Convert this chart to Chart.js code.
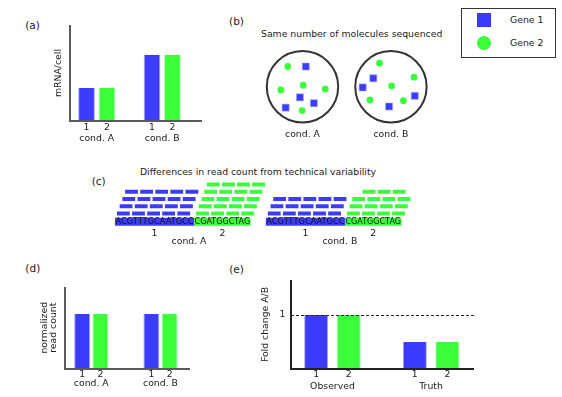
<!DOCTYPE html>
<html lang="en">
<head>
<meta charset="UTF-8">
<title>Read count normalization</title>
<script src="https://cdn.jsdelivr.net/npm/chart.js"></script>
<style>
  body { margin: 0; background: #fff; }
  #fig { position: relative; width: 562px; height: 397px; overflow: hidden;
         font-family: "DejaVu Sans", sans-serif; color: #1a1a1a; }
  .panel { position: absolute; }
  .txt { position: absolute; white-space: nowrap; transform: translate(-50%, -50%);
         line-height: 1; font-size: 9.3px; }
  .tag { font-size: 10.5px; }
  #legend { position: absolute; left: 461px; top: 8px; width: 95px; height: 50px;
            border: 1px solid #333; box-sizing: border-box; }
  #legend .mark { position: absolute; left: 14.7px; width: 14px; height: 14px; }
  #legend .name { position: absolute; left: 48px; font-size: 9.3px; line-height: 1; transform: translateY(-50%); }
</style>
</head>
<body>
<div id="fig">
  <div class="txt tag" style="left:32.5px; top:24.5px">(a)</div>
  <div class="txt tag" style="left:236.5px; top:20.7px">(b)</div>
  <div class="txt" style="left:351.7px; top:34.3px">Same number of molecules sequenced</div>
  <div class="txt tag" style="left:98.7px; top:180.7px">(c)</div>
  <div class="txt" style="left:258px; top:172.3px">Differences in read count from technical variability</div>
  <div class="txt tag" style="left:32.8px; top:268.3px">(d)</div>
  <div class="txt tag" style="left:236.5px; top:269px">(e)</div>

  <div class="panel" style="left:53px; top:25px; width:149px; height:124px"><canvas id="chartA"></canvas></div>
  <div class="panel" style="left:259px; top:43px; width:177px; height:100px"><canvas id="chartB"></canvas></div>
  <div class="panel" style="left:105px; top:178px; width:315px; height:70px"><canvas id="chartC"></canvas></div>
  <div class="panel" style="left:40px; top:287px; width:150px; height:110px"><canvas id="chartD"></canvas></div>
  <div class="panel" style="left:260px; top:280px; width:214px; height:117px"><canvas id="chartE"></canvas></div>

  <div id="legend"></div>
</div>

<script>
// ---- data ----
const conditions = ['cond. A', 'cond. B'];
const genes = ['Gene 1', 'Gene 2'];
const geneNumbers = ['1', '2'];

// (a) mRNA per cell
const mrnaGene1 = [1, 2];
const mrnaGene2 = [1, 2];

// (b) molecules in each sample, offsets from the circle centre in radii
const moleculesGene1A = [[0.09, 0.55], [-0.07, -0.29], [0.31, -0.45], [-0.46, -0.57]];
const moleculesGene2A = [[-0.40, 0.55], [0.02, 0.04], [-0.59, -0.09], [0.62, -0.06], [-0.01, -0.65]];
const moleculesGene1B = [[-0.48, 0.23], [-0.77, -0.02], [0.65, -0.25], [-0.05, -0.54]];
const moleculesGene2B = [[-0.31, 0.64], [0.63, 0.26], [0.02, 0.02], [-0.57, -0.36], [0.34, -0.38]];

// (c) sequences and number of reads per gene (cond. A, cond. B)
const sequences = ['ACGTTTGCAATGCC', 'CGATGGCTAG'];
const readsGene1 = [20, 15];
const readsGene2 = [20, 15];

// (d) normalized read count
const normGene1 = [1, 1];
const normGene2 = [1, 1];

// (e) fold change A/B
const foldGroups = ['Observed', 'Truth'];
const foldGene1 = [1, 0.5];
const foldGene2 = [1, 0.5];
const foldReference = 1;

// ---- style ----
const BLUE = '#3c3cff', GREEN = '#3cff3c';
const BLUE_EDGE = '#a8a8ff', GREEN_EDGE = '#a8ffa8';
const FONT = '"DejaVu Sans", sans-serif';
const INK = '#1a1a1a';

Chart.defaults.font.family = FONT;
Chart.defaults.font.size = 9.3;
Chart.defaults.color = INK;
Chart.defaults.animation = false;
Chart.defaults.maintainAspectRatio = false;
Chart.defaults.events = [];
Chart.defaults.plugins.legend.display = false;
Chart.defaults.plugins.tooltip.enabled = false;

// legend box
const legend = document.getElementById('legend');
genes.forEach((g, i) => {
  const mark = document.createElement('div');
  mark.className = 'mark';
  mark.style.top = (i === 0 ? 4.3 : 26.7) + 'px';
  mark.style.background = i === 0 ? BLUE : GREEN;
  if (i === 1) mark.style.borderRadius = '50%';
  legend.appendChild(mark);
  const name = document.createElement('div');
  name.className = 'name';
  name.style.top = (i === 0 ? 11.3 : 34) + 'px';
  name.textContent = g;
  legend.appendChild(name);
});

// "1" / "2" under every bar
const geneNumberPlugin = {
  id: 'geneNumbers',
  afterDraw(chart, args, opts) {
    const ctx = chart.ctx, bottom = chart.chartArea.bottom;
    ctx.save();
    ctx.font = '9.3px ' + FONT;
    ctx.fillStyle = INK;
    ctx.textAlign = 'center';
    ctx.textBaseline = 'middle';
    chart.data.datasets.forEach((ds, i) => {
      chart.getDatasetMeta(i).data.forEach(bar => ctx.fillText(geneNumbers[i], bar.x, bottom + opts.offset));
    });
    ctx.restore();
  }
};

// dashed reference line
const refLinePlugin = {
  id: 'refLine',
  afterDatasetsDraw(chart, args, opts) {
    if (opts.value == null) return;
    const {ctx, chartArea, scales} = chart;
    const y = Math.round(scales.y.getPixelForValue(opts.value)) + 0.5;
    ctx.save();
    ctx.strokeStyle = '#222';
    ctx.lineWidth = 1;
    ctx.setLineDash([3, 2]);
    ctx.beginPath();
    ctx.moveTo(chartArea.left, y);
    ctx.lineTo(chartArea.right, y);
    ctx.stroke();
    ctx.restore();
  }
};

function barPanel(id, cats, g1, g2, cfg) {
  const edge = {left: 1, right: 1, top: 0, bottom: 0};
  return new Chart(document.getElementById(id), {
    type: 'bar',
    data: {
      datasets: [
        { label: genes[0], data: g1.map((v, i) => ({x: i + 1, y: v})), backgroundColor: BLUE,
          borderColor: BLUE_EDGE, borderWidth: edge, categoryPercentage: cfg.cat, barPercentage: cfg.bar },
        { label: genes[1], data: g2.map((v, i) => ({x: i + 1, y: v})), backgroundColor: GREEN,
          borderColor: GREEN_EDGE, borderWidth: edge, categoryPercentage: cfg.cat, barPercentage: cfg.bar }
      ]
    },
    options: {
      layout: { padding: 0 },
      plugins: { geneNumbers: { offset: cfg.numOffset }, refLine: { value: cfg.refValue } },
      scales: {
        x: {
          type: 'linear', offset: false, min: cfg.xMin, max: cfg.xMax,
          grid: { display: false, drawTicks: false },
          border: { display: true, color: cfg.axis, width: 2, z: 1 },
          afterBuildTicks: s => { s.ticks = cats.map((c, i) => ({value: i + 1})); },
          ticks: { autoSkip: false, maxRotation: 0, padding: cfg.condPad,
                   callback: (v, i) => cats[i] },
          afterFit: s => { s.height = cfg.xH; s.paddingLeft = 0; s.paddingRight = 0; }
        },
        y: {
          min: 0, max: cfg.yMax,
          grid: { display: false, drawTicks: false },
          border: { display: true, color: cfg.axis, width: 2, z: 1 },
          afterBuildTicks: s => { s.ticks = cfg.yTick ? [{value: cfg.yTick}] : []; },
          ticks: { display: !!cfg.yTick, padding: 5.7, autoSkip: false, callback: v => String(v) },
          title: { display: true, text: cfg.title, padding: 0, font: { size: 9.3, lineHeight: cfg.titleLH || 1.2 } },
          afterFit: s => { s.width = cfg.yW; s.paddingTop = 0; s.paddingBottom = 0; }
        }
      }
    },
    plugins: [geneNumberPlugin, refLinePlugin]
  });
}

// (a)
barPanel('chartA', conditions, mrnaGene1, mrnaGene2, {
  xMin: 0.592, xMax: 2.607, yMax: 2.9, cat: 0.623, bar: 0.82,
  numOffset: 6.8, condPad: 12.4, xH: 28, yW: 17, axis: '#5a5a5a', title: 'mRNA/cell'
});

// (d)
barPanel('chartD', conditions, normGene1, normGene2, {
  xMin: 0.62, xMax: 2.426, yMax: 1.495, cat: 0.526, bar: 0.88,
  numOffset: 5.7, condPad: 9.6, xH: 28.5, yW: 25, axis: '#5a5a5a',
  title: ['normalized', 'read count'], titleLH: 1.0
});

// (e)
barPanel('chartE', foldGroups, foldGene1, foldGene2, {
  xMin: 0.58, xMax: 2.435, yMax: 1.648, cat: 0.66, bar: 0.74,
  numOffset: 5.8, condPad: 11.9, xH: 28, yW: 31, axis: '#222',
  title: 'Fold change A/B', yTick: foldReference, refValue: foldReference
});

// (b) molecules in two samples
const tubeSpacing = 2.41;   // centre to centre, in radii
const molecules = (a, b) => a.map(([x, y]) => ({x, y})).concat(b.map(([x, y]) => ({x: x + tubeSpacing, y})));

const tubeLabelPlugin = {
  id: 'tubeLabels',
  afterDraw(chart) {
    const {ctx, scales: {x, y}} = chart;
    ctx.save();
    ctx.font = '9.3px ' + FONT;
    ctx.fillStyle = INK;
    ctx.textAlign = 'center';
    ctx.textBaseline = 'middle';
    conditions.forEach((c, i) => ctx.fillText(c, x.getPixelForValue(i * tubeSpacing), y.getPixelForValue(-1.316)));
    ctx.restore();
  }
};

new Chart(document.getElementById('chartB'), {
  type: 'scatter',
  data: {
    datasets: [
      { data: molecules(moleculesGene1A, moleculesGene1B), pointStyle: 'rect', pointRadius: 5,
        backgroundColor: BLUE, borderColor: BLUE_EDGE, borderWidth: 0.6, clip: false },
      { data: molecules(moleculesGene2A, moleculesGene2B), pointStyle: 'circle', pointRadius: 3.4,
        backgroundColor: GREEN, borderWidth: 0, clip: false },
      { data: conditions.map((c, i) => ({x: i * tubeSpacing, y: 0})), pointStyle: 'circle', pointRadius: 35.7,
        borderWidth: 2, borderColor: '#333', backgroundColor: 'rgba(0,0,0,0)', clip: false }
    ]
  },
  options: {
    layout: { padding: 0, autoPadding: false },
    scales: {
      x: { type: 'linear', display: false, min: -1.185, max: 3.638 },
      y: { type: 'linear', display: false, min: -1.534, max: 1.191 }
    }
  },
  plugins: [tubeLabelPlugin]
});

// (c) reads stacked over the two genes, x in nucleotides
const ntPerRead = 2.27, ntPerSlot = 2.67, rowStart = 0.35, rowShift = 0.48, condGap = 2.7;
const geneStarts = [0, sequences[0].length];
const condLen = sequences[0].length + sequences[1].length;
const condStart = i => i * (condLen + condGap);
const readCounts = [readsGene1, readsGene2];

const datasetsC = [];
conditions.forEach((c, ci) => {
  sequences.forEach((seq, gi) => {
    const x0 = condStart(ci) + geneStarts[gi];
    const color = gi === 0 ? BLUE : GREEN;
    datasetsC.push({ data: [{x: x0, y: 0}, {x: x0 + seq.length, y: 0}], borderColor: color, borderWidth: 8 });
    const perRow = Math.round(seq.length / ntPerSlot);
    const n = readCounts[gi][ci];
    const pts = [];
    for (let k = 0; k < n; k++) {
      const row = Math.floor(k / perRow), col = k % perRow;
      const inRow = Math.min(perRow, n - row * perRow);
      const s = x0 + rowStart + row * rowShift + (perRow - inRow) * ntPerSlot / 2 + col * ntPerSlot;
      pts.push({x: s, y: 1.15 + row}, {x: s + ntPerRead, y: 1.15 + row}, {x: s + ntPerRead, y: null});
    }
    datasetsC.push({ data: pts, borderColor: color, borderWidth: 4 });
  });
});

const seqTextPlugin = {
  id: 'seqText',
  afterDatasetsDraw(chart) {
    const {ctx, scales: {x, y}} = chart;
    const y0 = y.getPixelForValue(0);
    ctx.save();
    ctx.textAlign = 'center';
    ctx.textBaseline = 'middle';
    conditions.forEach((c, ci) => {
      sequences.forEach((seq, gi) => {
        const a = x.getPixelForValue(condStart(ci) + geneStarts[gi]);
        const b = x.getPixelForValue(condStart(ci) + geneStarts[gi] + seq.length);
        ctx.font = '8.5px ' + FONT;
        ctx.fillStyle = '#111';
        ctx.fillText(seq, (a + b) / 2, y0 + 0.5, b - a - 1);
        ctx.font = '9.3px ' + FONT;
        ctx.fillStyle = INK;
        ctx.fillText(geneNumbers[gi], (a + b) / 2, y0 + 12.3);
      });
      ctx.fillText(c, x.getPixelForValue(condStart(ci) + 13.1), y0 + 20);
    });
    ctx.restore();
  }
};

new Chart(document.getElementById('chartC'), {
  type: 'scatter',
  data: { datasets: datasetsC },
  options: {
    layout: { padding: 0, autoPadding: false },
    datasets: { scatter: { showLine: true, pointRadius: 0, clip: false, borderCapStyle: 'butt' } },
    scales: {
      x: { type: 'linear', display: false, min: -1.770, max: 53.982 },
      y: { type: 'linear', display: false, min: -3.653, max: 6.069 }
    }
  },
  plugins: [seqTextPlugin]
});
</script>
</body>
</html>
